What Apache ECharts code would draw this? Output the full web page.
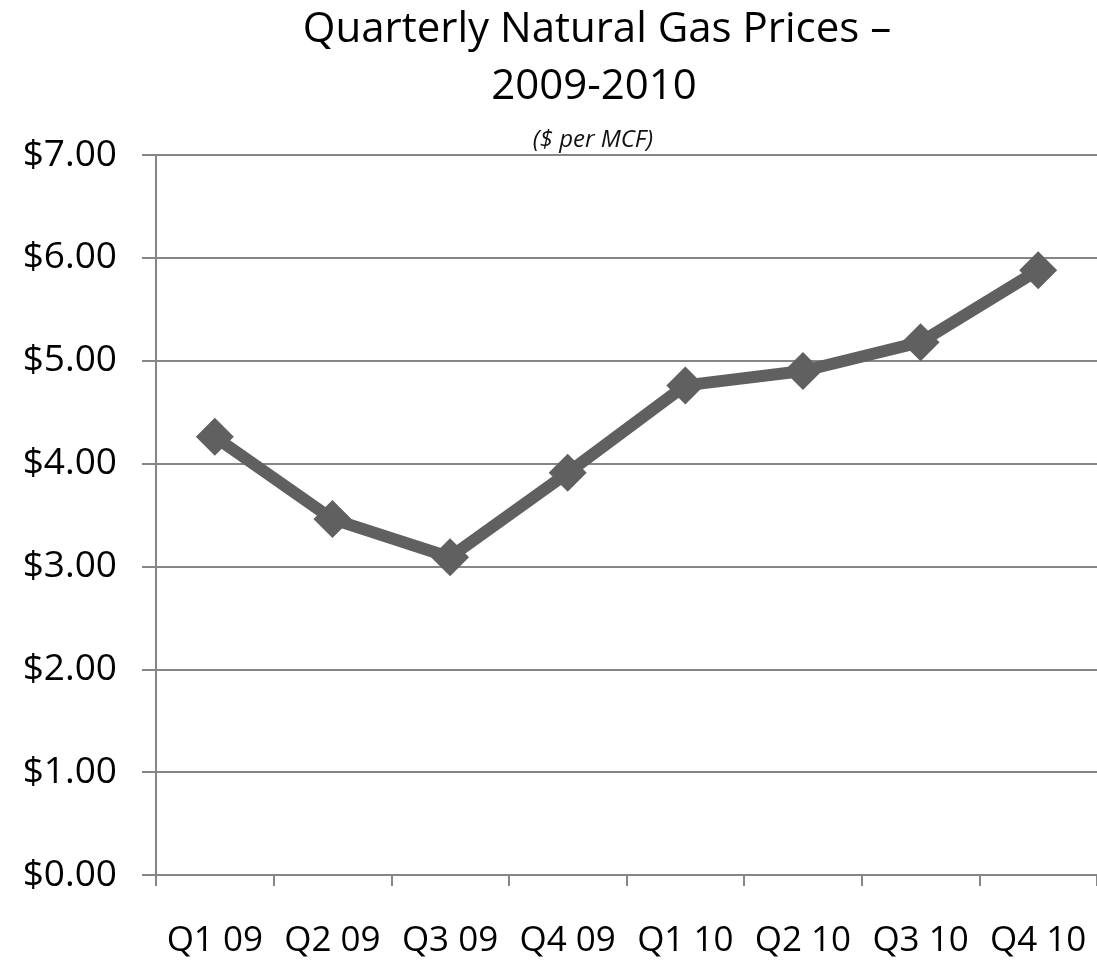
<!DOCTYPE html>
<html><head><meta charset="utf-8">
<script src="https://cdn.jsdelivr.net/npm/echarts@6/dist/echarts.min.js"></script>
<style>html,body{margin:0;padding:0;background:#fff}#c{width:1097px;height:963px}</style>
</head><body><div id="c"></div>
<script>
const categories = ['Q1 09','Q2 09','Q3 09','Q4 09','Q1 10','Q2 10','Q3 10','Q4 10'];
const prices = [4.26, 3.46, 3.09, 3.91, 4.76, 4.90, 5.18, 5.88];
const titleLine1 = 'Quarterly Natural Gas Prices –';
const titleLine2 = '2009-2010';
const subtitle = '($ per MCF)';

const chart = echarts.init(document.getElementById('c'));
chart.setOption({
  backgroundColor: '#fff',
  animation: false,
  title: [
    { text: titleLine1, left: 592, top: 0, textAlign: 'center',
      textStyle: { fontFamily: 'Open Sans', fontWeight: 'normal', fontSize: 42, lineHeight: 50, color: '#000' } },
    { text: titleLine2, left: 589, top: 57, textAlign: 'center',
      textStyle: { fontFamily: 'Open Sans', fontWeight: 'normal', fontSize: 42, lineHeight: 50, color: '#000' } },
    { text: subtitle, left: 588, top: 120, textAlign: 'center',
      textStyle: { fontFamily: 'Open Sans', fontStyle: 'italic', fontWeight: 'normal', fontSize: 24, lineHeight: 30, color: '#111' } }
  ],
  grid: { left: 156, top: 155, width: 950, height: 720, containLabel: false },
  xAxis: {
    type: 'category', data: categories, boundaryGap: true,
    axisLine: { lineStyle: { color: '#868686', width: 2 } },
    axisTick: { show: true, interval: 0, length: 11, lineStyle: { color: '#868686', width: 2 } },
    axisLabel: { interval: 0, hideOverlap: false, margin: 49, fontFamily: 'Open Sans', fontSize: 35, color: '#000' }
  },
  yAxis: {
    type: 'value', min: 0, max: 7, interval: 1,
    axisLine: { show: true, lineStyle: { color: '#868686', width: 2 } },
    axisTick: { show: true, length: 14, lineStyle: { color: '#868686', width: 2 } },
    splitLine: { lineStyle: { color: '#868686', width: 2 } },
    axisLabel: { margin: 39, fontFamily: 'Open Sans', fontSize: 37, color: '#000',
      formatter: v => '$' + v.toFixed(2) }
  },
  series: [{
    type: 'line', data: prices,
    symbol: 'diamond', symbolSize: 38,
    lineStyle: { color: '#606060', width: 12 },
    itemStyle: { color: '#606060' }
  }]
});
</script></body></html>
